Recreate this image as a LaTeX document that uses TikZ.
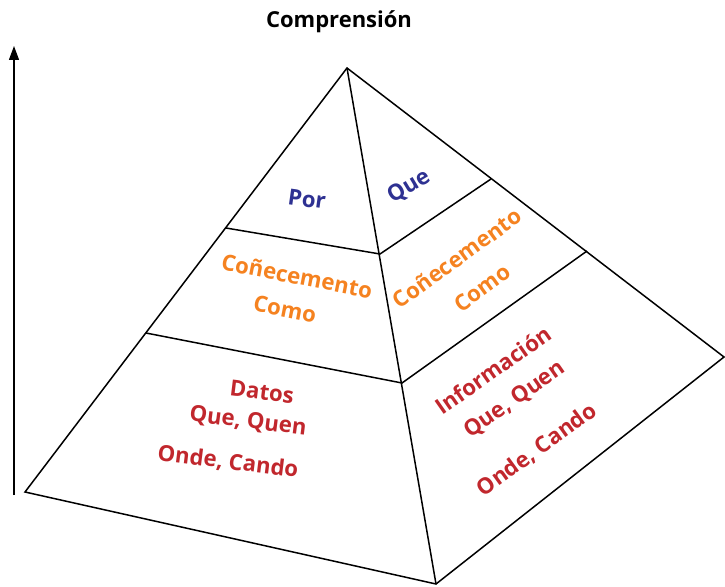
\documentclass[tikz,border=0pt]{standalone}
\usepackage{fontspec}
\setmainfont{Open Sans}
\usetikzlibrary{arrows.meta}
\definecolor{pblue}{HTML}{2E3192}
\definecolor{porange}{HTML}{F58220}
\definecolor{pred}{HTML}{C1272D}
\tikzset{
  edge/.style={line width=1.5pt, line join=miter},
  lbl/.style={font=\fontsize{22.2}{24}\selectfont\bfseries, inner sep=0pt, anchor=center},
}
\begin{document}
\begin{tikzpicture}[x=1pt,y=-1pt]
\useasboundingbox (0,0) rectangle (725,586);
% vertices
\coordinate (apex) at (347,68);
\coordinate (left) at (25,492);
\coordinate (bottom) at (436,584);
\coordinate (right) at (724,357);
\coordinate (l1) at (226,228);
\coordinate (m1) at (380,254);
\coordinate (r1) at (491,179);
\coordinate (l2) at (146,333);
\coordinate (m2) at (402,383);
\coordinate (r2) at (587,251);
\coordinate (arrS) at (14,495);
\coordinate (arrE) at (14,46);
% pyramid
\draw[edge] (left) -- (apex) -- (right) -- (bottom) -- cycle;
\draw[edge] (apex) -- (bottom);
\draw[edge] (l1) -- (m1) -- (r1);
\draw[edge] (l2) -- (m2) -- (r2);
% arrow
\draw[line width=1.3pt, -{Triangle[length=14pt,width=10pt]}] (arrS) -- (arrE);
% title
\node[lbl, font=\fontsize{22}{24}\selectfont\bfseries] (title) at (339,22) {Comprensión};
% left face
\node[lbl, pblue, rotate=-8] (por) at (307,199) {Por};
\node[lbl, porange, rotate=-11] (con1) at (297,276) {Coñecemento};
\node[lbl, porange, rotate=-11] (como1) at (285,309) {Como};
\node[lbl, pred, rotate=-7] (datos) at (262,392) {Datos};
\node[lbl, pred, rotate=-7] (qq1) at (248,422) {Que, Quen};
\node[lbl, pred, rotate=-7] (oc1) at (228,462) {Onde, Cando};
% right face
\node[lbl, pblue, rotate=31] (que) at (409,187) {Que};
\node[lbl, porange, rotate=36] (con2) at (457,258) {Coñecemento};
\node[lbl, porange, rotate=36] (como2) at (482,288) {Como};
\node[lbl, pred, rotate=35] (info) at (493,370) {Información};
\node[lbl, pred, rotate=35] (qq2) at (515,400) {Que, Quen};
\node[lbl, pred, rotate=36] (oc2) at (537,450) {Onde, Cando};
\end{tikzpicture}
\end{document}
